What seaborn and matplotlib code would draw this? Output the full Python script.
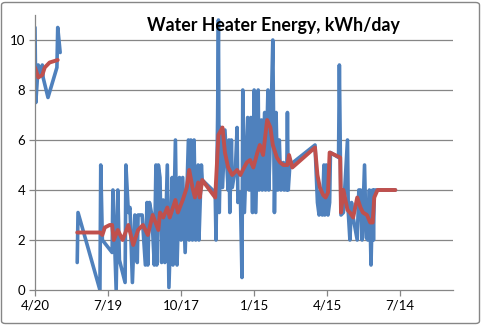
import numpy as np
import pandas as pd
import seaborn as sns
import matplotlib
matplotlib.use("Agg")
import matplotlib.pyplot as plt
from matplotlib.patches import FancyBboxPatch

# ---- data (days since 4/20) ----
blue_a_days = [0, 1, 4, 6, 9, 10, 16, 27, 28, 31]
blue_a_vals = [10.5, 7.5, 9.0, 8.6, 9.0, 8.5, 7.7, 8.9, 10.5, 9.5]

blue_b_days = [52, 53, 80, 81, 83, 95, 96, 100, 102, 104, 111, 112, 115, 117, 120, 123, 126, 127,
               129, 132, 136, 138, 139, 141, 144, 147, 149, 150, 152, 154, 156, 158, 160, 163, 165,
               169, 170, 173, 175, 178, 180, 182, 185, 189, 190, 192, 194, 196, 198, 201, 202, 205,
               206, 222, 223, 225, 226, 227, 229, 231, 234, 238, 239, 240, 242, 243, 247, 249, 250,
               253, 255, 256, 258, 262, 264, 266, 268, 270, 272, 275, 276, 279, 280, 283, 284, 287,
               288, 291, 293, 295, 297, 299, 301, 303, 306, 307, 309, 310, 311, 312, 314, 345, 348,
               350, 351, 354, 356, 357, 359, 361, 363, 364, 374, 375, 377, 380, 385, 386, 388, 390,
               392, 397, 399, 401, 403, 405, 406, 408, 410, 412, 414, 416, 417, 418, 444]
blue_b_vals = [1.1, 3.1, 0.0, 5.0, 2.0, 1.5, 4.0, 0.0, 4.0, 1.2, 0.3, 5.0, 3.1, 3.3, 0.3, 3.0, 1.1, 3.0,
               3.0, 3.0, 1.0, 3.5, 1.0, 3.5, 3.0, 1.0, 5.0, 1.0, 5.0, 4.5, 1.1, 3.6, 1.1, 5.0, 0.1,
               4.5, 1.0, 6.0, 1.0, 4.5, 2.0, 4.5, 1.5, 6.0, 2.0, 6.0, 2.0, 6.0, 2.0, 5.0, 2.0, 5.0,
               4.4, 3.9, 2.0, 6.9, 10.8, 3.1, 6.5, 4.1, 6.4, 4.0, 6.0, 3.1, 6.0, 4.1, 4.9, 6.5, 3.5,
               3.9, 0.5, 8.0, 3.1, 6.9, 4.0, 6.9, 3.1, 8.0, 3.1, 8.0, 4.0, 6.8, 4.0, 7.1, 4.0, 8.0,
               4.0, 7.1, 10.0, 3.1, 7.1, 4.0, 6.0, 4.0, 5.1, 4.0, 5.0, 4.0, 7.1, 4.0, 5.0, 5.8, 3.5,
               3.0, 3.9, 3.0, 5.0, 3.0, 5.0, 3.0, 3.5, 5.5, 5.3, 9.0, 3.0, 3.1, 6.0, 3.1, 2.0, 3.5,
               2.9, 2.0, 4.0, 4.0, 2.0, 4.0, 5.0, 2.1, 2.0, 4.0, 1.0, 4.0, 2.0, 4.0, 4.0]

red_a_days = [0, 4, 9, 12, 18, 28]
red_a_vals = [8.9, 8.5, 8.6, 8.9, 9.1, 9.2]

red_b_days = [52, 80, 83, 86, 92, 95, 97, 102, 108, 115, 121, 127, 133, 139, 145, 152, 154, 158,
              163, 166, 173, 176, 182, 187, 190, 194, 197, 201, 203, 206, 222, 226, 231, 234, 238,
              243, 249, 253, 256, 261, 265, 269, 274, 277, 281, 286, 290, 293, 298, 302, 306, 311,
              313, 317, 345, 348, 351, 355, 358, 361, 363, 376, 377, 380, 385, 388, 392, 397, 401,
              404, 409, 413, 416, 418, 422, 444]
red_b_vals = [2.3, 2.3, 2.2, 2.5, 2.6, 2.6, 2.0, 2.4, 2.0, 2.6, 1.8, 2.4, 2.6, 2.2, 3.0, 2.4, 3.1, 2.9,
              3.3, 2.9, 3.6, 3.1, 3.6, 4.1, 4.8, 4.1, 3.7, 4.3, 3.7, 4.4, 3.7, 6.2, 6.5, 5.5, 4.9,
              4.6, 4.8, 4.6, 4.8, 5.1, 5.2, 4.9, 5.5, 5.8, 5.4, 6.8, 6.5, 5.8, 5.3, 5.1, 5.0, 5.0,
              5.4, 4.9, 5.7, 4.6, 4.1, 3.8, 3.7, 3.9, 5.5, 5.3, 3.1, 4.0, 3.2, 3.1, 2.9, 3.7, 3.3,
              3.1, 3.0, 2.7, 2.7, 3.7, 4.0, 4.0]

tick_days = [0, 90, 180, 270, 360, 450]
tick_labels = ["4/20", "7/19", "10/17", "1/15", "4/15", "7/14"]
y_ticks = [0, 2, 4, 6, 8, 10]
title = "Water Heater Energy, kWh/day"

# ---- build frames ----
def frame(days, vals, seg):
    return pd.DataFrame({"day": days, "val": vals, "seg": seg})

blue = pd.concat([frame(blue_a_days, blue_a_vals, "a"), frame(blue_b_days, blue_b_vals, "b")])
red = pd.concat([frame(red_a_days, red_a_vals, "a"), frame(red_b_days, red_b_vals, "b")])

sns.set_theme(style="white")
plt.rcParams["font.family"] = ["Lato", "DejaVu Sans"]

fig = plt.figure(figsize=(4.82, 3.25), dpi=100)
ax = fig.add_axes([35 / 482, 35 / 325, 418 / 482, 275 / 325])

sns.lineplot(data=blue, x="day", y="val", units="seg", estimator=None, color="#4F81BD",
             linewidth=2.6, ax=ax, sort=False)
sns.lineplot(data=red, x="day", y="val", units="seg", estimator=None, color="#C0504D",
             linewidth=2.8, ax=ax, sort=False)

ax.set_xlim(0, 515)
ax.set_ylim(0, 11)
ax.set_xticks(tick_days)
ax.set_xticklabels(tick_labels)
ax.set_yticks(y_ticks)
ax.set_xlabel("")
ax.set_ylabel("")
for y in y_ticks[1:]:
    ax.axhline(y, color="#868686", linewidth=0.9, zorder=0)
for s in ["top", "right"]:
    ax.spines[s].set_visible(False)
for s in ["left", "bottom"]:
    ax.spines[s].set_color("#868686")
    ax.spines[s].set_linewidth(0.9)
ax.tick_params(axis="both", which="major", direction="out", length=4, width=0.9,
               color="#868686", labelsize=9.5, labelcolor="#000000", pad=3,
               bottom=True, left=True)
ax.set_facecolor("none")

fig.text(273 / 482, 1 - 26 / 325, title, ha="center", va="center", fontsize=12.8,
         fontweight="bold", color="#000000")

border = FancyBboxPatch((1.5 / 482, 1.5 / 325), 478 / 482, 321 / 325,
                        boxstyle="round,pad=0,rounding_size=0.008", transform=fig.transFigure,
                        facecolor="none", edgecolor="#868686", linewidth=1.0)
fig.patches.append(border)

fig.savefig("out.png", dpi=100)
